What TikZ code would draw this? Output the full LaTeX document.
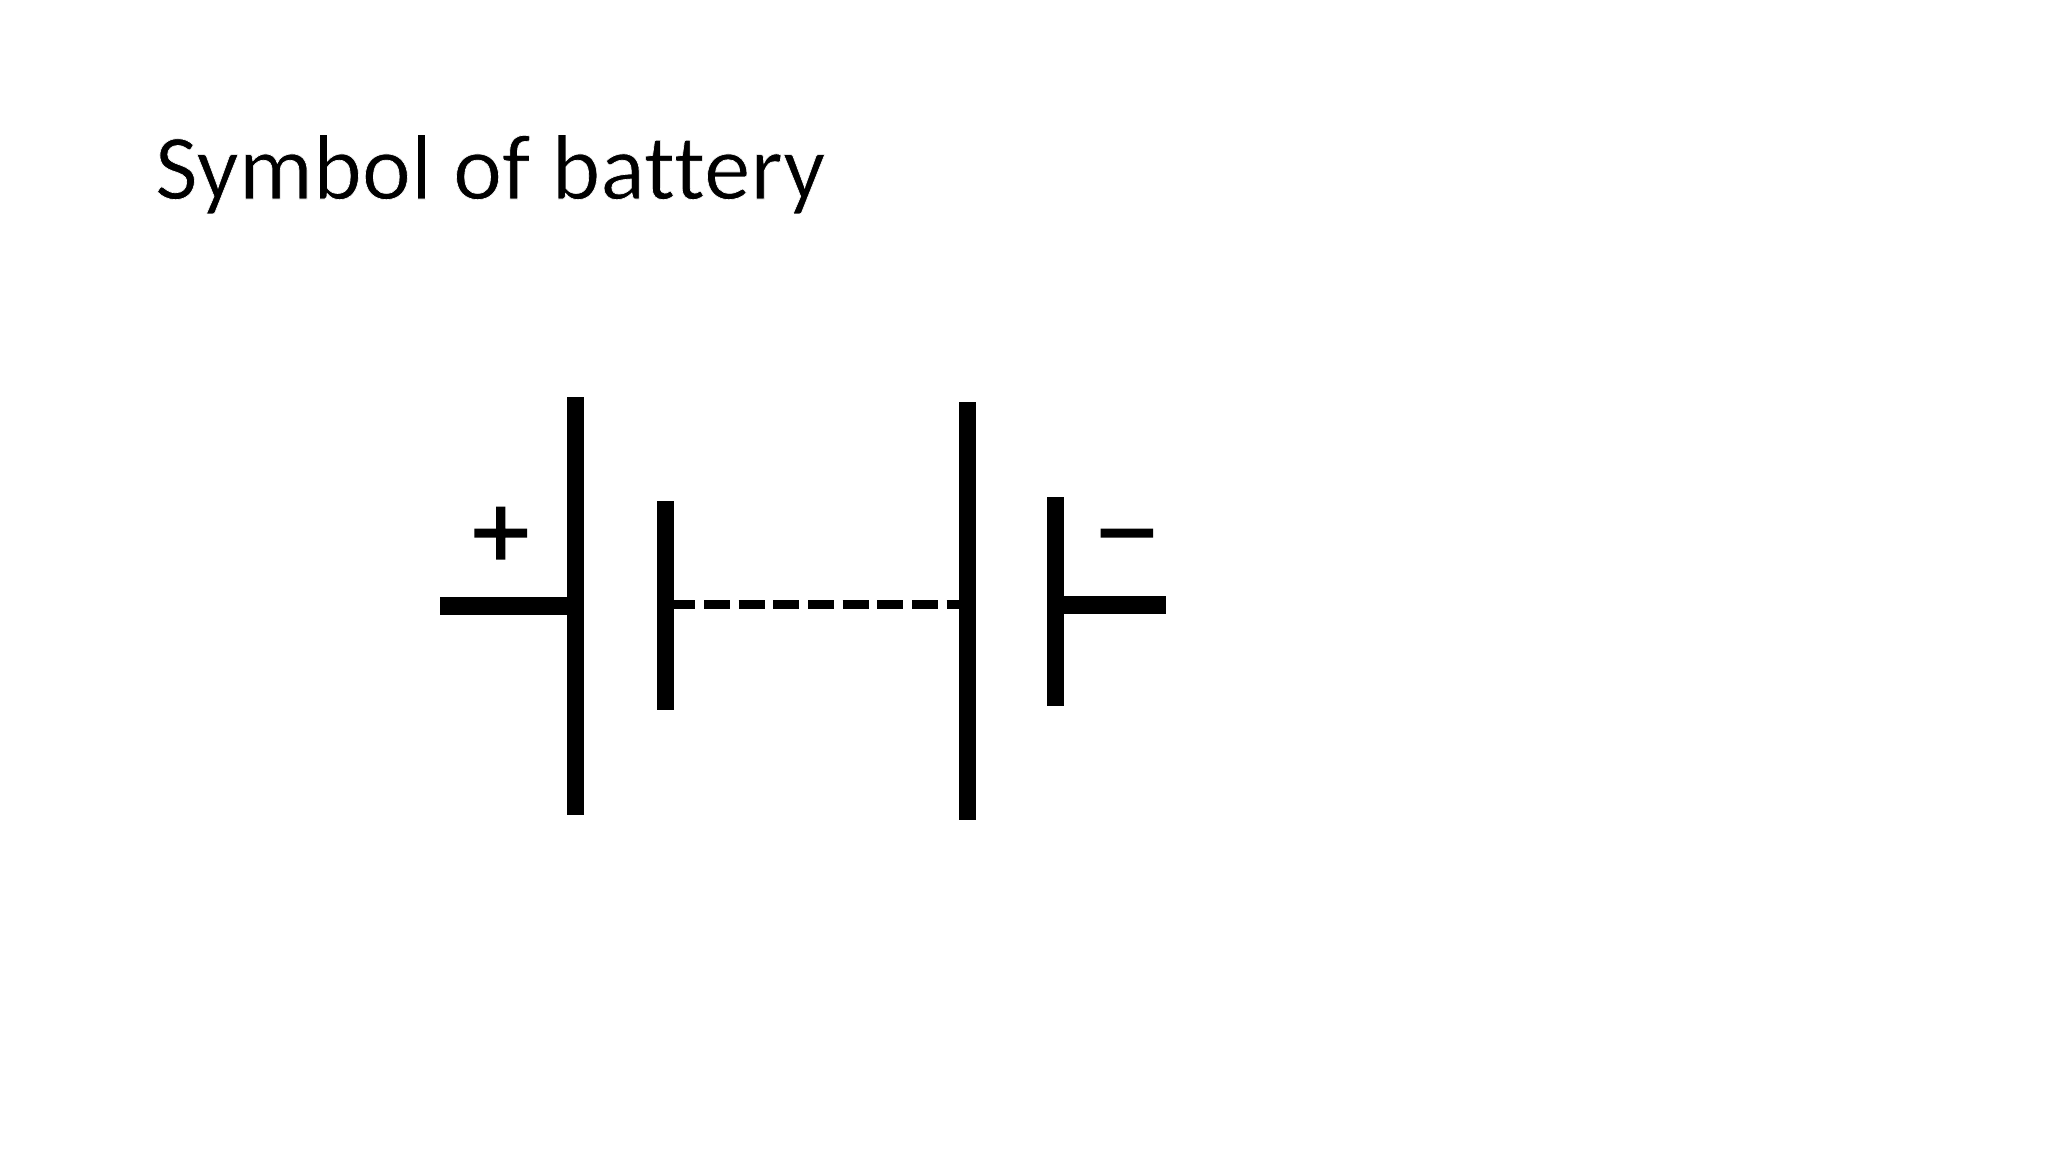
\documentclass[tikz,border=0pt]{standalone}
\usepackage{fontspec}
\setmainfont[Ligatures=NoCommon]{Carlito}
\newfontfamily\lightfont[Ligatures=NoCommon,FakeBold=0.7]{Carlito}
\newfontfamily\signfont[FakeBold=1.5]{Liberation Sans}
\tikzset{
  x=1pt,y=-1pt,
  plate/.style={fill=black,draw=none,inner sep=0pt,outer sep=0pt,minimum width=17.3pt,rectangle},
  bigplate/.style={plate,minimum height=418pt},
  smallplate/.style={plate,minimum height=209pt},
  lead/.style={line width=18pt,line cap=butt,black},
  link/.style={line width=9pt,line cap=butt,black,dash pattern=on 26pt off 8.67pt,dash phase=4.7pt},
  sign/.style={inner sep=0pt,outer sep=0pt,anchor=base,font=\signfont\fontsize{105}{105}\selectfont},
  title/.style={inner sep=0pt,outer sep=0pt,anchor=base west,font=\lightfont\fontsize{93}{93}\selectfont}
}
\begin{document}
\begin{tikzpicture}
\useasboundingbox (0,0) rectangle (2048,1152);
\fill[white] (0,0) rectangle (2048,1152);
\node[title] (heading) at (155,199) {\special{pdf:code 1 1 1 RG}Symbol of battery\special{pdf:code 0 0 0 RG}};
\node[bigplate] (p1) at (575.7,606.3) {};
\node[smallplate] (n1) at (665.4,605.6) {};
\node[bigplate] (p2) at (967.7,610.8) {};
\node[smallplate] (n2) at (1055.7,601.5) {};
\coordinate (leadL) at (440,605.7);
\coordinate (leadR) at (1166,605.2);
\coordinate (n1out) at (n1.east |- 0,604.5);
\coordinate (p2in) at (p2.west |- 0,604.5);
\draw[lead] (leadL) -- (leadL -| p1.west);
\draw[lead] (leadR -| n2.east) -- (leadR);
\draw[link] (n1out) -- (p2in);
\node[sign] (plus) at (500.8,568) {+};
\node[sign] (minus) at (1126.8,568) {−};
\end{tikzpicture}
\end{document}
